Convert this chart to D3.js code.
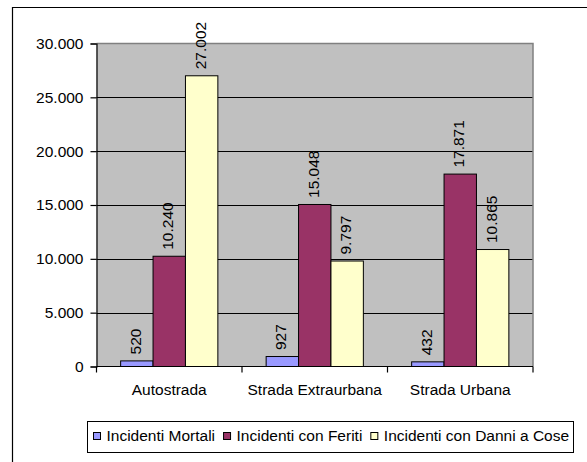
<!DOCTYPE html>
<html>
<head>
<meta charset="utf-8">
<script src="https://cdn.jsdelivr.net/npm/d3@7"></script>
<style>
  html, body { margin: 0; padding: 0; background: #fff; }
  svg { display: block; font-family: "Liberation Sans", Arial, sans-serif; }
</style>
</head>
<body>
<svg id="chart" width="587" height="462"></svg>
<script>
// Road types on the x axis
const categories = ["Autostrada", "Strada Extraurbana", "Strada Urbana"];
// Accident series
const seriesNames = ["Incidenti Mortali", "Incidenti con Feriti", "Incidenti con Danni a Cose"];
const seriesColors = ["#9999FF", "#993366", "#FFFFCC"];
// Values per series, one per road type
const mortali = [520, 927, 432];
const feriti = [10240, 15048, 17871];
const danniCose = [27002, 9797, 10865];
const seriesValues = [mortali, feriti, danniCose];
// Y axis ticks
const yTicks = [0, 5000, 10000, 15000, 20000, 25000, 30000];

const fmt = v => d3.format(",")(v).replace(/,/g, ".");

const svg = d3.select("#chart");
const plot = { left: 96.5, right: 533, top: 43.5, bottom: 366.5 };
const FONT = 15.5;

// chart frame (top and left edges visible)
svg.append("path")
  .attr("d", "M12.5,462 L12.5,7.5 L587,7.5")
  .attr("fill", "none").attr("stroke", "#000").attr("stroke-width", 1.2);

const x0 = d3.scaleBand().domain(categories).range([plot.left, plot.right]).padding(0);
const x1 = d3.scaleBand().domain(seriesNames).range([0, x0.bandwidth()])
  .paddingInner(0).paddingOuter(0.745);
const y = d3.scaleLinear().domain([0, 30000]).range([plot.bottom, plot.top]);

// plot background
svg.append("rect")
  .attr("x", plot.left).attr("y", plot.top)
  .attr("width", plot.right - plot.left).attr("height", plot.bottom - plot.top)
  .attr("fill", "#C0C0C0");

// gridlines
svg.append("g").selectAll("line")
  .data(yTicks.filter(t => t > 0 && t < 30000))
  .join("line")
  .attr("x1", plot.left).attr("x2", plot.right)
  .attr("y1", d => Math.round(y(d)) + 0.5).attr("y2", d => Math.round(y(d)) + 0.5)
  .attr("stroke", "#000").attr("stroke-width", 1.2);

// plot border top/right
svg.append("path")
  .attr("d", `M${plot.left},${plot.top} L${plot.right},${plot.top} L${plot.right},${plot.bottom}`)
  .attr("fill", "none").attr("stroke", "#808080").attr("stroke-width", 1.5);

// bars
const rows = [];
categories.forEach((c, ci) => {
  seriesNames.forEach((s, si) => rows.push({ cat: c, series: s, si, value: seriesValues[si][ci] }));
});

svg.append("g").selectAll("rect")
  .data(rows)
  .join("rect")
  .attr("x", d => x0(d.cat) + x1(d.series))
  .attr("y", d => y(d.value))
  .attr("width", x1.bandwidth())
  .attr("height", d => y(0) - y(d.value))
  .attr("fill", d => seriesColors[d.si])
  .attr("stroke", "#000").attr("stroke-width", 1);

// value labels, rotated
svg.append("g").selectAll("text")
  .data(rows)
  .join("text")
  .attr("transform", d => `translate(${x0(d.cat) + x1(d.series) + x1.bandwidth() / 2 + 4},${y(d.value) - 6.5}) rotate(-90)`)
  .attr("font-size", FONT)
  .attr("fill", "#000")
  .text(d => fmt(d.value));

// y axis
const yAxis = svg.append("g")
  .attr("transform", `translate(${plot.left},0)`)
  .call(d3.axisLeft(y).tickValues(yTicks).tickFormat(fmt).tickSize(6).tickPadding(7));
yAxis.select(".domain").attr("stroke", "#000").attr("stroke-width", 1.2);
yAxis.selectAll(".tick line").attr("stroke", "#000").attr("stroke-width", 1.2);
yAxis.selectAll(".tick text").attr("font-size", FONT).attr("font-family", null).attr("fill", "#000");

// x axis with ticks at category boundaries
const xAxis = svg.append("g").attr("transform", `translate(0,${plot.bottom})`);
xAxis.append("line")
  .attr("x1", plot.left).attr("x2", plot.right)
  .attr("y1", 0).attr("y2", 0)
  .attr("stroke", "#000").attr("stroke-width", 1.2);
const bounds = categories.map(c => x0(c)).concat([plot.right]);
xAxis.selectAll("line.tk")
  .data(bounds)
  .join("line").attr("class", "tk")
  .attr("x1", d => d).attr("x2", d => d)
  .attr("y1", 0).attr("y2", 6)
  .attr("stroke", "#000").attr("stroke-width", 1.2);
xAxis.selectAll("text")
  .data(categories)
  .join("text")
  .attr("x", d => x0(d) + x0.bandwidth() / 2)
  .attr("y", 28.5)
  .attr("text-anchor", "middle")
  .attr("font-size", FONT)
  .attr("fill", "#000")
  .text(d => d);

// legend
const legend = svg.append("g");
legend.append("rect")
  .attr("x", 87.5).attr("y", 421.5).attr("width", 486).attr("height", 31)
  .attr("fill", "#fff").attr("stroke", "#000").attr("stroke-width", 1);
let lx = 93.5;
seriesNames.forEach((s, i) => {
  legend.append("rect")
    .attr("x", lx).attr("y", 432.5).attr("width", 7).attr("height", 7)
    .attr("fill", seriesColors[i]).attr("stroke", "#000").attr("stroke-width", 1);
  const t = legend.append("text")
    .attr("x", lx + 13).attr("y", 441)
    .attr("font-size", FONT).attr("fill", "#000")
    .text(s);
  lx += 13 + t.node().getComputedTextLength() + 8.5;
});
</script>
</body>
</html>
